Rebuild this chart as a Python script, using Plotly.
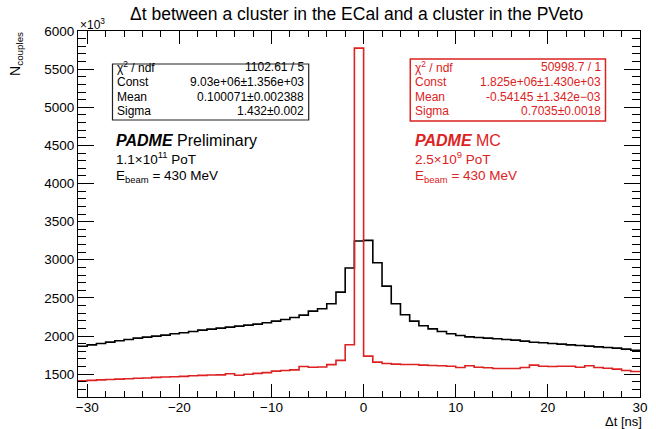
import plotly.graph_objects as go

# ---------------- data ----------------
bin_low_edges = list(range(-31, 30))   # 1 ns bins from -31 to 30
bin_upper_end = 30

data_counts = [  # black (data), in units of 10^3
    1866, 1884, 1902, 1920, 1937, 1954, 1972, 1985, 1998, 2011,
    2029, 2042, 2059, 2077, 2090, 2103, 2116, 2129, 2142, 2156,
    2173, 2195, 2217, 2243, 2274, 2326, 2357, 2422, 2576, 2891,
    3245,
    3254, 2961, 2654, 2422, 2278, 2195, 2134, 2094, 2059, 2029,
    2007, 1989, 1981, 1972, 1963, 1954, 1946, 1933, 1919, 1911,
    1902, 1893, 1884, 1876, 1867, 1858, 1849, 1841, 1828, 1814,
]

mc_counts = [  # red (MC), in units of 10^3
    1412, 1418, 1425, 1430, 1435, 1440, 1445, 1450, 1458, 1462,
    1466, 1470, 1478, 1484, 1488, 1490, 1505, 1485, 1498, 1510,
    1520, 1540, 1548, 1556, 1600, 1590, 1594, 1625, 1680, 1885,
    5775,
    1736, 1657, 1639, 1631, 1626, 1626, 1618, 1613, 1609, 1604,
    1587, 1609, 1591, 1583, 1574, 1574, 1574, 1587, 1618, 1604,
    1600, 1604, 1604, 1591, 1609, 1587, 1578, 1565, 1548, 1535,
]

x_ticks = [-30, -20, -10, 0, 10, 20, 30]
y_ticks = [1500, 2000, 2500, 3000, 3500, 4000, 4500, 5000, 5500, 6000]

data_stats_labels = ["χ<sup>2</sup> / ndf", "Const", "Mean", "Sigma"]
data_stats_values = ["1102.61 / 5", "9.03e+06±1.356e+03", "0.100071±0.002388", "1.432±0.002"]
mc_stats_labels = ["χ<sup>2</sup> / ndf", "Const", "Mean", "Sigma"]
mc_stats_values = ["50998.7 / 1", "1.825e+06±1.430e+03", "-0.54145 ±1.342e−03", "0.7035±0.0018"]

title_text = "Δt between a cluster in the ECal and a cluster in the PVeto"

# ---------------- style ----------------
FONT = "Liberation Sans, Arial, Helvetica, sans-serif"
RED = "#dd2222"
BLACK = "#000000"

W_PX, H_PX = 656, 429
L, R, T, B = 78, 648, 31, 397


def px(x):
    return (x - L) / (R - L)


def py(y):
    return (B - y) / (B - T)


def step_xy(counts):
    xs = list(bin_low_edges) + [bin_upper_end]
    ys = list(counts) + [counts[-1]]
    return xs, ys


fig = go.Figure()

xs, ys = step_xy(data_counts)
fig.add_trace(go.Scatter(x=xs, y=ys, mode="lines", line=dict(color=BLACK, width=1.6, shape="hv"),
                         showlegend=False, hoverinfo="skip"))
xs, ys = step_xy(mc_counts)
fig.add_trace(go.Scatter(x=xs, y=ys, mode="lines", line=dict(color=RED, width=1.6, shape="hv"),
                         showlegend=False, hoverinfo="skip"))

annotations = []
shapes = []


def add_text(text, x, y, size, color=BLACK, xanchor="left", yanchor="middle", angle=0, pad=1):
    annotations.append(dict(text=text, x=px(x), y=py(y), xref="paper", yref="paper",
                            xanchor=xanchor, yanchor=yanchor, showarrow=False,
                            textangle=angle, borderpad=pad,
                            font=dict(family=FONT, size=size, color=color)))


# title
add_text(title_text, 360, 14, 17.5, xanchor="center")
# x10^3
add_text("×10<sup>3</sup>", 78, 24, 12, xanchor="left")
# axis titles
add_text("N<sub>couples</sub>", 15, 30, 14, xanchor="center", yanchor="top", angle=-90)
add_text("Δt [ns]", 651, 430, 13, xanchor="right", yanchor="bottom", pad=0)

# stats boxes
rows_y = [67, 82, 97, 111.5]
shapes.append(dict(type="rect", xref="paper", yref="paper", x0=px(113), x1=px(312), y0=py(120), y1=py(64),
                   line=dict(color="#222222", width=1.2), fillcolor="white", layer="above"))
for lab, val, yy in zip(data_stats_labels, data_stats_values, rows_y):
    add_text(lab, 116, yy, 12)
    add_text(val, 309, yy, 12, xanchor="right")

shapes.append(dict(type="rect", xref="paper", yref="paper", x0=px(415), x1=px(613), y0=py(121), y1=py(59),
                   line=dict(color=RED, width=1.5), fillcolor="white", layer="above"))
for lab, val, yy in zip(mc_stats_labels, mc_stats_values, rows_y):
    add_text(lab, 418, yy, 12, color=RED)
    add_text(val, 610, yy, 12, color=RED, xanchor="right")

# PADME labels
add_text("<b><i>PADME</i></b> Preliminary", 115, 140, 16)
add_text("1.1×10<sup>11</sup> PoT", 115, 158, 13.5)
add_text("E<sub>beam</sub> = 430 MeV", 115, 176, 13.5)
add_text("<b><i>PADME</i></b> MC", 418, 140, 16, color=RED)
add_text("2.5×10<sup>9</sup> PoT", 418, 158, 13.5, color=RED)
add_text("E<sub>beam</sub> = 430 MeV", 418, 176, 13.5, color=RED)

fig.update_layout(
    width=W_PX, height=H_PX,
    margin=dict(l=L, r=W_PX - R, t=T, b=H_PX - B, pad=0),
    paper_bgcolor="white", plot_bgcolor="white",
    font=dict(family=FONT, size=13, color=BLACK),
    annotations=annotations, shapes=shapes,
    showlegend=False,
)
fig.update_xaxes(range=[-31, 30], tickmode="array", tickvals=x_ticks,
                 ticktext=[("−" + str(-v)) if v < 0 else str(v) for v in x_ticks],
                 ticks="inside", ticklen=13, tickwidth=1, tickcolor=BLACK,
                 minor=dict(dtick=2, tick0=0, ticks="inside", ticklen=6, tickwidth=1, tickcolor=BLACK),
                 showline=True, linecolor=BLACK, linewidth=1, mirror="allticks",
                 showgrid=False, zeroline=False, tickfont=dict(size=13.5),
                 ticklabelstandoff=-2)
fig.update_yaxes(range=[1200, 6000], tickmode="array", tickvals=y_ticks,
                 ticks="inside", ticklen=16, tickwidth=1, tickcolor=BLACK,
                 minor=dict(dtick=100, tick0=0, ticks="inside", ticklen=8, tickwidth=1, tickcolor=BLACK),
                 showline=True, linecolor=BLACK, linewidth=1, mirror="allticks",
                 showgrid=False, zeroline=False, tickfont=dict(size=13.5))

fig.write_html("out.html")
